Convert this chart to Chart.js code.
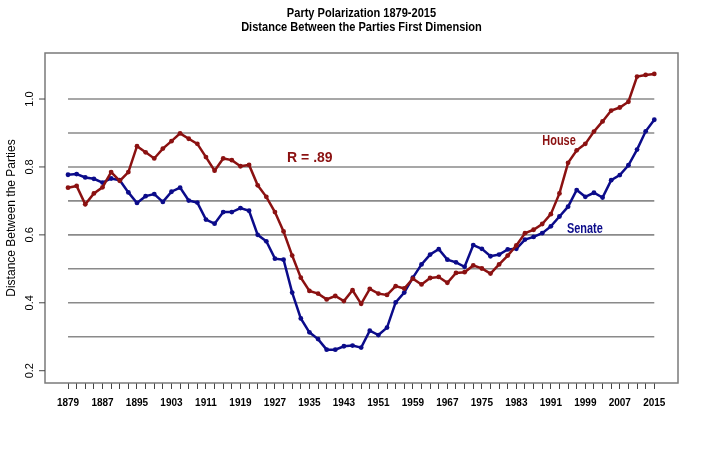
<!DOCTYPE html>
<html>
<head>
<meta charset="utf-8">
<title>Party Polarization 1879-2015</title>
<script src="https://cdn.jsdelivr.net/npm/chart.js@4.4.0/dist/chart.umd.min.js"></script>
<style>
  body { margin: 0; background: #fff; }
  #wrap { width: 701px; height: 449px; }
</style>
</head>
<body>
<div id="wrap"><canvas id="myChart" width="701" height="449"></canvas></div>
<script>
// Congresses (first year of each term)
const congressYears = [
  1879, 1881, 1883, 1885, 1887, 1889, 1891, 1893, 1895, 1897,
  1899, 1901, 1903, 1905, 1907, 1909, 1911, 1913, 1915, 1917,
  1919, 1921, 1923, 1925, 1927, 1929, 1931, 1933, 1935, 1937,
  1939, 1941, 1943, 1945, 1947, 1949, 1951, 1953, 1955, 1957,
  1959, 1961, 1963, 1965, 1967, 1969, 1971, 1973, 1975, 1977,
  1979, 1981, 1983, 1985, 1987, 1989, 1991, 1993, 1995, 1997,
  1999, 2001, 2003, 2005, 2007, 2009, 2011, 2013, 2015
];

const house = [
  0.739, 0.744, 0.690, 0.722, 0.740, 0.785, 0.759, 0.785, 0.861, 0.843,
  0.825, 0.854, 0.876, 0.899, 0.883, 0.868, 0.829, 0.789, 0.825, 0.820,
  0.802, 0.806, 0.746, 0.712, 0.667, 0.610, 0.539, 0.474, 0.435, 0.427,
  0.410, 0.420, 0.405, 0.437, 0.397, 0.441, 0.427, 0.423, 0.449, 0.442,
  0.471, 0.454, 0.473, 0.476, 0.459, 0.488, 0.490, 0.510, 0.501, 0.486,
  0.513, 0.539, 0.569, 0.605, 0.615, 0.632, 0.661, 0.722, 0.812, 0.849,
  0.868, 0.904, 0.934, 0.966, 0.975, 0.992, 1.066, 1.071, 1.074
];

const senate = [
  0.777, 0.779, 0.769, 0.765, 0.754, 0.766, 0.761, 0.725, 0.694, 0.714,
  0.720, 0.697, 0.727, 0.739, 0.701, 0.695, 0.645, 0.633, 0.667, 0.667,
  0.679, 0.671, 0.600, 0.581, 0.530, 0.527, 0.430, 0.354, 0.313, 0.293,
  0.262, 0.262, 0.272, 0.274, 0.268, 0.318, 0.305, 0.327, 0.401, 0.430,
  0.474, 0.513, 0.542, 0.558, 0.527, 0.519, 0.506, 0.570, 0.559, 0.537,
  0.542, 0.557, 0.559, 0.586, 0.594, 0.605, 0.625, 0.654, 0.683, 0.732,
  0.712, 0.724, 0.710, 0.761, 0.776, 0.805, 0.851, 0.905, 0.939
];

const labeledYears = [1879, 1887, 1895, 1903, 1911, 1919, 1927, 1935, 1943,
  1951, 1959, 1967, 1975, 1983, 1991, 1999, 2007, 2015];
const gridValues = [0.3, 0.4, 0.5, 0.6, 0.7, 0.8, 0.9, 1.0];
const yTickValues = [0.2, 0.4, 0.6, 0.8, 1.0];
const yTickLabels = ['0.2', '0.4', '0.6', '0.8', '1.0'];
const titleLines = ['Party Polarization 1879-2015', 'Distance Between the Parties First Dimension'];

const HOUSE_COLOR = '#8b1111';
const SENATE_COLOR = '#0b0b8a';
const SANS = "'Liberation Sans', Arial, sans-serif";

const toPoints = vals => vals.map((v, i) => ({ x: congressYears[i], y: v }));

// text squeezed sideways, the original uses a narrow face
function narrowText(ctx, text, px, py, font, sx) {
  ctx.save();
  ctx.font = font;
  ctx.translate(px, py);
  ctx.scale(sx, 1);
  ctx.fillText(text, 0, 0);
  ctx.restore();
}

// box, grid lines, y axis ticks/labels, titles and text notes (R style)
const framePlugin = {
  id: 'frame',
  beforeDatasetsDraw(chart) {
    const { ctx, chartArea: a, scales: { x, y } } = chart;
    ctx.save();
    const x0 = x.getPixelForValue(congressYears[0]);
    const x1 = x.getPixelForValue(congressYears[congressYears.length - 1]);
    ctx.strokeStyle = '#8a8a8a';
    ctx.lineWidth = 1.6;
    gridValues.forEach(v => {
      const py = y.getPixelForValue(v);
      ctx.beginPath();
      ctx.moveTo(x0, py);
      ctx.lineTo(x1, py);
      ctx.stroke();
    });

    ctx.strokeStyle = '#7a7a7a';
    ctx.lineWidth = 1.5;
    ctx.strokeRect(a.left, a.top, a.width, a.height);

    ctx.strokeStyle = '#444';
    ctx.lineWidth = 1;
    ctx.fillStyle = '#000';
    ctx.font = '11px ' + SANS;
    ctx.textAlign = 'center';
    ctx.textBaseline = 'middle';
    yTickValues.forEach((v, i) => {
      const py = y.getPixelForValue(v);
      ctx.beginPath();
      ctx.moveTo(a.left - 6, py);
      ctx.lineTo(a.left, py);
      ctx.stroke();
      ctx.save();
      ctx.translate(30, py);
      ctx.rotate(-Math.PI / 2);
      ctx.fillText(yTickLabels[i], 0, 0);
      ctx.restore();
    });

    ctx.save();
    ctx.font = '12px ' + SANS;
    ctx.translate(12, (a.top + a.bottom) / 2);
    ctx.rotate(-Math.PI / 2);
    ctx.fillText('Distance Between the Parties', 0, 0);
    ctx.restore();

    const cx = (a.left + a.right) / 2;
    narrowText(ctx, titleLines[0], cx, 13, 'bold 13px ' + SANS, 0.85);
    narrowText(ctx, titleLines[1], cx, 27, 'bold 13px ' + SANS, 0.85);
    ctx.restore();
  },
  afterDatasetsDraw(chart) {
    const { ctx, scales: { x, y } } = chart;
    ctx.save();
    ctx.textAlign = 'center';
    ctx.textBaseline = 'middle';
    ctx.fillStyle = HOUSE_COLOR;
    ctx.font = 'bold 14px ' + SANS;
    ctx.fillText('R = .89', x.getPixelForValue(1935.1), y.getPixelForValue(0.826));
    narrowText(ctx, 'House', x.getPixelForValue(1992.9), y.getPixelForValue(0.876), 'bold 14px ' + SANS, 0.78);
    ctx.fillStyle = SENATE_COLOR;
    narrowText(ctx, 'Senate', x.getPixelForValue(1998.9), y.getPixelForValue(0.617), 'bold 14px ' + SANS, 0.78);
    ctx.restore();
  }
};

const myChartRef = document.getElementById('myChart').getContext('2d');

new Chart(myChartRef, {
  type: 'line',
  data: {
    datasets: [
      {
        label: 'House',
        data: toPoints(house),
        borderColor: HOUSE_COLOR,
        backgroundColor: HOUSE_COLOR,
        borderWidth: 2.5,
        pointRadius: 2.4,
        pointBorderWidth: 0,
        lineTension: 0
      },
      {
        label: 'Senate',
        data: toPoints(senate),
        borderColor: SENATE_COLOR,
        backgroundColor: SENATE_COLOR,
        borderWidth: 2.5,
        pointRadius: 2.4,
        pointBorderWidth: 0,
        lineTension: 0
      }
    ]
  },
  options: {
    responsive: false,
    animation: false,
    layout: { padding: { left: 45, right: 23, top: 53, bottom: 0 } },
    plugins: {
      legend: { display: false },
      tooltip: { enabled: false },
      title: { display: false }
    },
    scales: {
      x: {
        type: 'linear',
        min: 1873.66,
        max: 2020.5,
        border: { display: false },
        grid: { drawOnChartArea: false, drawTicks: true, tickLength: 6, color: '#444', lineWidth: 1 },
        ticks: {
          autoSkip: false,
          maxRotation: 0,
          minRotation: 0,
          padding: 8,
          color: '#000',
          font: { family: SANS, size: 10, weight: 'bold' },
          callback: v => labeledYears.includes(v) ? String(v) : ''
        },
        afterBuildTicks: s => { s.ticks = congressYears.map(v => ({ value: v })); },
        afterFit: s => { s.height = 66; }
      },
      y: {
        display: false,
        min: 0.1638,
        max: 1.1355
      }
    }
  },
  plugins: [framePlugin]
});
</script>
</body>
</html>
